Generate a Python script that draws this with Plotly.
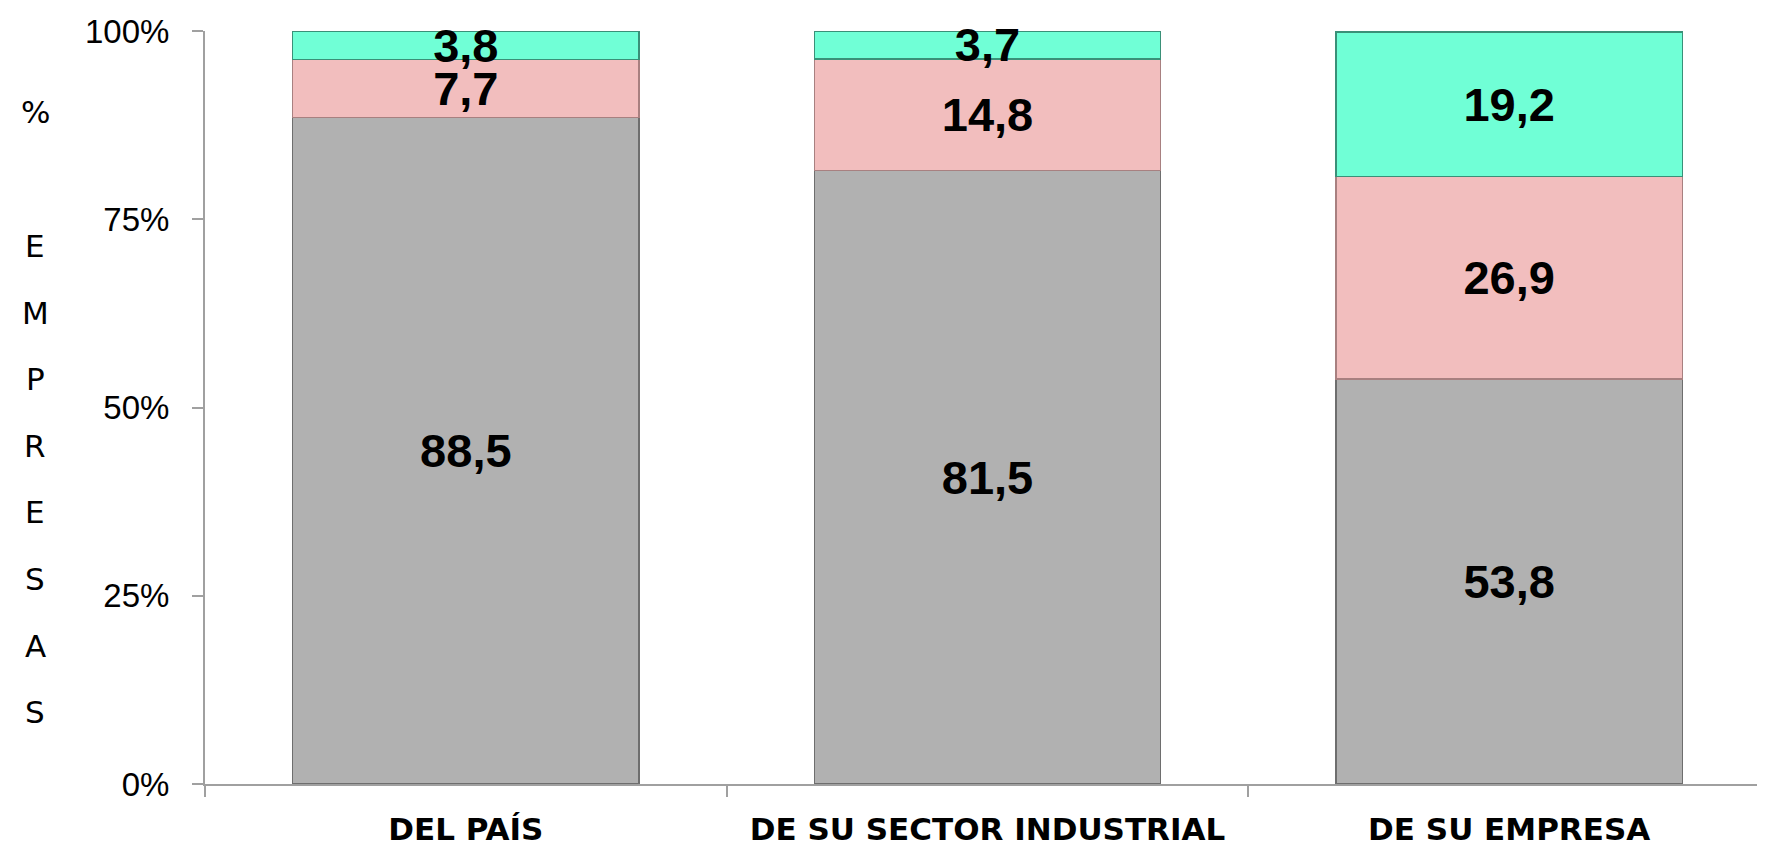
import plotly.graph_objects as go

categories = ["DEL PAÍS", "DE SU SECTOR INDUSTRIAL", "DE SU EMPRESA"]
series_names = ["Gris", "Rosa", "Verde"]
gray_vals = [88.5, 81.5, 53.8]
pink_vals = [7.7, 14.8, 26.9]
teal_vals = [3.8, 3.7, 19.2]
y_ticks = [0, 25, 50, 75, 100]
y_tick_labels = ["0%", "25%", "50%", "75%", "100%"]
y_title_chars = ["%", "E", "M", "P", "R", "E", "S", "A", "S"]

colors = ["#B1B1B1", "#F2BEBE", "#70FFD6"]
edges = ["#6E6E6E", "#A88080", "#3A9078"]

W, H = 1765, 851
L, R, T, B = 197, 3, 23, 75

fig = go.Figure()
for name, vals, col, edge in zip(series_names, [gray_vals, pink_vals, teal_vals], colors, edges):
    fig.add_trace(go.Bar(
        x=categories, y=vals, name=name,
        marker=dict(color=col, line=dict(color=edge, width=1.5)),
        text=[f"{v:.1f}".replace(".", ",") for v in vals],
        textposition="inside", insidetextanchor="middle", textangle=0,
        constraintext="none",
        textfont=dict(family="Liberation Sans", size=47, color="black", weight="bold"),
        cliponaxis=False,
    ))

# vertical y-axis title drawn as stacked letters
plot_h = H - T - B
plot_w = W - L - R
title_px = [104] + [238 + 66.6 * k for k in range(len(y_title_chars) - 1)]
for ch, ypx in zip(y_title_chars, title_px):
    fig.add_annotation(text=ch, xref="paper", yref="paper",
                       x=(27 - L) / plot_w, y=(H - B - ypx) / plot_h,
                       xanchor="center", yanchor="middle", showarrow=False,
                       font=dict(family="DejaVu Sans", size=31, color="black"))

fig.update_layout(
    barmode="stack", bargap=0.336,
    width=W, height=H,
    margin=dict(l=L, r=R, t=T, b=B),
    plot_bgcolor="white", paper_bgcolor="white",
    showlegend=False,
)
fig.update_yaxes(range=[0, 100], tickmode="array", tickvals=y_ticks, ticktext=y_tick_labels,
                 showgrid=False, zeroline=False,
                 showline=True, linecolor="#A0A0A0", linewidth=2,
                 ticks="outside", ticklen=11, tickcolor="#A0A0A0", tickwidth=2,
                 ticklabelstandoff=16,
                 tickfont=dict(family="Liberation Sans", size=33, color="black"))
fig.update_xaxes(showgrid=False, showline=True, linecolor="#A0A0A0", linewidth=2,
                 ticks="outside", tickson="boundaries", ticklen=11,
                 tickcolor="#A0A0A0", tickwidth=2, ticklabelstandoff=17,
                 tickfont=dict(family="DejaVu Sans", size=31, color="black", weight="bold"))

fig.write_html("out.html")
